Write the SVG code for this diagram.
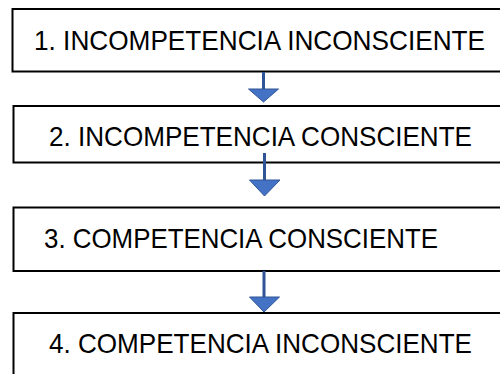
<svg xmlns="http://www.w3.org/2000/svg" width="500" height="374" viewBox="0 0 500 374">
<style>
.box{fill:#fff;stroke:#000;stroke-width:2}
.lbl{font-family:"Liberation Sans",Arial,sans-serif;font-size:28.5px;fill:#000}
.ln{stroke:#2F5597;stroke-width:3}
.hd{fill:#4472C4;stroke:#2F5597;stroke-width:1}
</style>
<rect width="500" height="374" fill="#fff"/>
<g id="node1"><rect class="box" x="12.5" y="9" width="500" height="62.5"/><text class="lbl" x="34" y="50" textLength="451" lengthAdjust="spacingAndGlyphs">1. INCOMPETENCIA INCONSCIENTE</text></g>
<g id="node2"><rect class="box" x="13.5" y="106" width="500" height="56.5"/><text class="lbl" x="49" y="146" textLength="423" lengthAdjust="spacingAndGlyphs">2. INCOMPETENCIA CONSCIENTE</text></g>
<g id="node3"><rect class="box" x="13.5" y="207.5" width="500" height="63.5"/><text class="lbl" x="44" y="248" textLength="394" lengthAdjust="spacingAndGlyphs">3. COMPETENCIA CONSCIENTE</text></g>
<g id="node4"><rect class="box" x="13.5" y="313" width="500" height="80"/><text class="lbl" x="49" y="353" textLength="423" lengthAdjust="spacingAndGlyphs">4. COMPETENCIA INCONSCIENTE</text></g>
<g id="connectors">
<line class="ln" x1="263.5" y1="72" x2="263.5" y2="89"/><polygon class="hd" points="248.5,89 278.5,89 263.5,102"/>
<line class="ln" x1="264.5" y1="153" x2="264.5" y2="180"/><polygon class="hd" points="249.5,180 280,180 264.5,196"/>
<line class="ln" x1="264" y1="271" x2="264" y2="297"/><polygon class="hd" points="249.5,297 279.5,297 264,312"/>
</g>
</svg>
